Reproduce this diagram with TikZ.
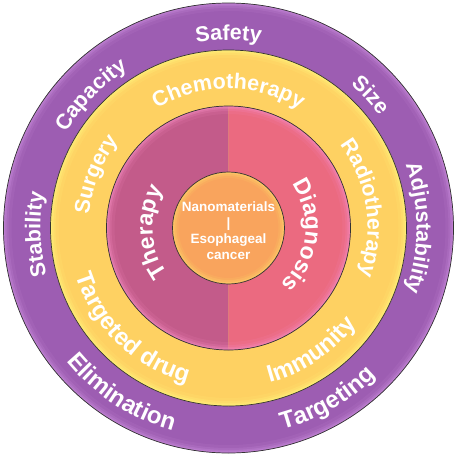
\documentclass[tikz,border=0pt]{standalone}
\usepackage{fontspec}
\setmainfont{Liberation Sans}
\usepackage{xcolor}
\usetikzlibrary{decorations.text}

\definecolor{ringpurple}{HTML}{9D5DB2}
\definecolor{glowpurple}{HTML}{C98BDB}
\definecolor{ringyellow}{HTML}{FED162}
\definecolor{glowyellow}{HTML}{FFF27A}
\definecolor{pinkleft}{HTML}{C35B8A}
\definecolor{pinkright}{HTML}{EB6A80}
\definecolor{glowpink}{HTML}{F58AC0}
\definecolor{coreorange}{HTML}{F9A45D}
\definecolor{gloworange}{HTML}{FFD56A}

\newcommand\topfont{\fontsize{21.5}{25}\selectfont\bfseries}
\newcommand\lowfont{\fontsize{24}{28}\selectfont\bfseries}
\newcommand\pinkfont{\fontsize{23}{27}\selectfont\bfseries}

\begin{document}
\begin{tikzpicture}[
  ring/.style={draw=black!80,line width=0.7pt},
  curved/.style={decorate,decoration={text along path,text align=center,text color=white,text={#1}}}
]
\useasboundingbox (-228.5pt,-228pt) rectangle (228.5pt,228pt);
% outer ring
\fill[ringpurple] (0,0) circle[radius=225pt];
\foreach \w/\o in {8pt/0.12,5pt/0.2,3pt/0.3,1.5pt/0.45}
  \draw[glowpurple,opacity=\o,line width=\w] (0,0) circle[radius={225pt-0.5*\w}];
\draw[ring] (0,0) circle[radius=225pt];
% treatment ring
\fill[ringyellow] (0,0) circle[radius=178pt];
\foreach \w/\o in {8pt/0.15,5pt/0.25,3pt/0.35,1.5pt/0.5}
  \draw[glowyellow,opacity=\o,line width=\w] (0,0) circle[radius={178pt-0.5*\w}];
\draw[ring] (0,0) circle[radius=178pt];
% therapy / diagnosis
\fill[pinkleft] (90:122pt) arc[start angle=90,end angle=270,radius=122pt] -- cycle;
\fill[pinkright] (-90:122pt) arc[start angle=-90,end angle=90,radius=122pt] -- cycle;
\foreach \w/\o in {8pt/0.12,5pt/0.2,3pt/0.3,1.5pt/0.45}
  \draw[glowpink,opacity=\o,line width=\w] (0,0) circle[radius={122pt-0.5*\w}];
\draw[ring] (0,0) circle[radius=122pt];
% core
\fill[coreorange] (0,0) circle[radius=56pt];
\foreach \w/\o in {6pt/0.15,4pt/0.25,2pt/0.4}
  \draw[gloworange,opacity=\o,line width=\w] (0,0) circle[radius={56pt-0.5*\w}];
\draw[ring] (0,0) circle[radius=56pt];
\node[text=white,font=\fontsize{13.5}{16}\selectfont\bfseries,align=center] (core) at (0,-3pt)
  {Nanomaterials\\|\\Esophageal\\cancer};

% outer labels
\path[curved={|\topfont|Safety}] (150:188pt) arc[start angle=150,end angle=30,radius=188pt];
\path[curved={|\topfont|Capacity}] (196:188pt) arc[start angle=196,end angle=76,radius=188pt];
\path[curved={|\topfont|Size}] (103:188pt) arc[start angle=103,end angle=-17,radius=188pt];
\path[curved={|\topfont|Adjustability}] (60:188pt) arc[start angle=60,end angle=-60,radius=188pt];
\path[curved={|\topfont|Stability}] (242:188pt) arc[start angle=242,end angle=122,radius=188pt];
\path[curved={|\lowfont|Elimination}] (177:210pt) arc[start angle=177,end angle=297,radius=210pt];
\path[curved={|\lowfont|Targeting}] (240:209pt) arc[start angle=240,end angle=360,radius=209pt];

% treatment labels
\path[curved={|\topfont|Chemotherapy}] (150:139pt) arc[start angle=150,end angle=30,radius=139pt];
\path[curved={|\topfont|Surgery}] (218:140pt) arc[start angle=218,end angle=98,radius=140pt];
\path[curved={|\topfont|Radiotherapy}] (68.5:139pt) arc[start angle=68.5,end angle=-51.5,radius=139pt];
\path[curved={|\lowfont|Targeted drug}] (166:160pt) arc[start angle=166,end angle=286,radius=160pt];
\path[curved={|\lowfont|Immunity}] (244:160pt) arc[start angle=244,end angle=364,radius=160pt];

% inner labels
\path[curved={|\pinkfont|Therapy}] (243:76pt) arc[start angle=243,end angle=123,radius=76pt];
\path[curved={|\pinkfont|Diagnosis}] (54:77pt) arc[start angle=54,end angle=-66,radius=77pt];
\end{tikzpicture}
\end{document}
